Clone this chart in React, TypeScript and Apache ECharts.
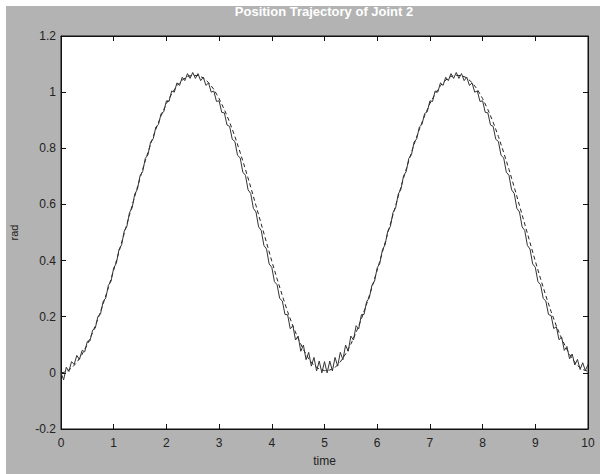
import React, { useEffect, useRef } from "react";
import * as echarts from "echarts";

// Time step of the sampled readings
const dashedStep = 0.1;
const solidStep = 0.05;

const xTicks = [0, 1, 2, 3, 4, 5, 6, 7, 8, 9, 10];
const yTickLabels = ["-0.2", "0", "0.2", "0.4", "0.6", "0.8", "1", "1.2"];

// Dashed (reference) trajectory, t = 0 .. 10 every 0.1
const dashedValues = [
  0, 0.004, 0.017, 0.037, 0.066, 0.101, 0.144, 0.192, 0.246, 0.304,
  0.366, 0.431, 0.497, 0.563, 0.629, 0.694, 0.756, 0.814, 0.868, 0.916,
  0.959, 0.994, 1.023, 1.043, 1.056, 1.06, 1.059, 1.051, 1.034, 1.01,
  0.977, 0.938, 0.893, 0.842, 0.785, 0.725, 0.662, 0.596, 0.53, 0.464,
  0.398, 0.335, 0.275, 0.218, 0.167, 0.122, 0.083, 0.05, 0.026, 0.014,
  0.008, 0.01, 0.019, 0.039, 0.067, 0.102, 0.144, 0.192, 0.246, 0.304,
  0.366, 0.431, 0.497, 0.563, 0.629, 0.694, 0.756, 0.814, 0.868, 0.916,
  0.959, 0.994, 1.023, 1.043, 1.056, 1.06, 1.059, 1.051, 1.034, 1.01,
  0.977, 0.938, 0.893, 0.842, 0.785, 0.725, 0.662, 0.596, 0.53, 0.464,
  0.398, 0.335, 0.275, 0.218, 0.167, 0.122, 0.083, 0.05, 0.026, 0.012,
  0.005,
];

// Solid (actual) trajectory with ripple, t = 0 .. 10 every 0.05
const solidValues = [
  0.0, -0.025, 0.02, 0.005, 0.04, 0.03, 0.062, 0.048, 0.08, 0.075,
  0.112, 0.114, 0.152, 0.159, 0.2, 0.21, 0.254, 0.267, 0.312, 0.327,
  0.374, 0.39, 0.439, 0.456, 0.505, 0.522, 0.571, 0.588, 0.637, 0.654,
  0.702, 0.717, 0.764, 0.777, 0.822, 0.834, 0.876, 0.885, 0.924, 0.93,
  0.969, 0.967, 1.004, 1.0, 1.033, 1.024, 1.053, 1.041, 1.066, 1.049,
  1.07, 1.049, 1.066, 1.041, 1.053, 1.024, 1.033, 1.0, 1.004, 0.967,
  0.969, 0.928, 0.926, 0.883, 0.878, 0.832, 0.824, 0.775, 0.766, 0.715,
  0.704, 0.652, 0.639, 0.586, 0.573, 0.52, 0.507, 0.454, 0.441, 0.388,
  0.376, 0.325, 0.314, 0.265, 0.256, 0.208, 0.207, 0.157, 0.168, 0.117,
  0.131, 0.077, 0.099, 0.047, 0.073, 0.024, 0.055, 0.007, 0.042, 0.0,
  0.04, 0.0, 0.042, 0.007, 0.055, 0.024, 0.073, 0.047, 0.099, 0.077,
  0.131, 0.117, 0.168, 0.157, 0.207, 0.208, 0.254, 0.267, 0.312, 0.327,
  0.374, 0.39, 0.439, 0.456, 0.505, 0.522, 0.571, 0.588, 0.637, 0.654,
  0.702, 0.717, 0.764, 0.777, 0.822, 0.834, 0.876, 0.885, 0.924, 0.93,
  0.969, 0.967, 1.004, 1.0, 1.033, 1.024, 1.053, 1.041, 1.066, 1.049,
  1.07, 1.049, 1.066, 1.041, 1.053, 1.024, 1.033, 1.0, 1.004, 0.967,
  0.969, 0.928, 0.926, 0.883, 0.878, 0.832, 0.824, 0.775, 0.766, 0.715,
  0.704, 0.652, 0.639, 0.586, 0.573, 0.52, 0.507, 0.454, 0.441, 0.388,
  0.376, 0.325, 0.314, 0.265, 0.256, 0.208, 0.204, 0.158, 0.164, 0.118,
  0.127, 0.08, 0.094, 0.05, 0.067, 0.028, 0.048, 0.012, 0.036, 0.008,
  0.03,
];

const titleText = "Position Trajectory of Joint 2";
const xName = "time";
const yName = "rad";

export default function App() {
  const ref = useRef<HTMLDivElement>(null);

  useEffect(() => {
    if (!ref.current) return;
    const chart = echarts.init(ref.current, null, { renderer: "svg" });
    const round = (v: number) => Math.round(v * 1000) / 1000;
    const dashedData = dashedValues.map((v, i) => [round(i * dashedStep), v]);
    const solidData = solidValues.map((v, i) => [round(i * solidStep), v]);

    const labelStyle = {
      color: "#222",
      fontSize: 12,
      fontFamily: "Liberation Sans, Arial, sans-serif",
    };
    const lineStyle = { color: "#111", width: 1 };

    chart.setOption({
      animation: false,
      backgroundColor: "transparent",
      graphic: [
        {
          type: "text",
          x: 324,
          y: 5,
          style: {
            text: titleText,
            fill: "#fff",
            font: "bold 13px 'Liberation Sans', Arial, sans-serif",
            textAlign: "center",
            textVerticalAlign: "top",
          },
        },
      ],
      grid: {
        left: 61,
        right: 12,
        top: 36,
        bottom: 45,
        show: true,
        backgroundColor: "#fff",
        borderColor: "#111",
        borderWidth: 1,
      },
      xAxis: [
        {
          type: "value",
          min: 0,
          max: 10,
          interval: 1,
          position: "bottom",
          name: xName,
          nameLocation: "middle",
          nameGap: 26,
          nameTextStyle: { ...labelStyle },
          axisLine: { show: true, onZero: false, lineStyle },
          axisTick: { show: true, inside: true, length: 5, lineStyle },
          axisLabel: {
            ...labelStyle,
            margin: 8,
            formatter: (v: number) => (xTicks.includes(v) ? String(v) : ""),
          },
          splitLine: { show: false },
        },
        {
          type: "value",
          min: 0,
          max: 10,
          interval: 1,
          position: "top",
          axisLine: { show: true, onZero: false, lineStyle },
          axisTick: { show: true, inside: true, length: 5, lineStyle },
          axisLabel: { show: false },
          splitLine: { show: false },
        },
      ],
      yAxis: [
        {
          type: "value",
          min: -0.2,
          max: 1.2,
          interval: 0.2,
          position: "left",
          name: yName,
          nameLocation: "middle",
          nameGap: 42,
          nameRotate: 90,
          nameTextStyle: { ...labelStyle, fontSize: 11 },
          axisLine: { show: true, onZero: false, lineStyle },
          axisTick: { show: true, inside: true, length: 5, lineStyle },
          axisLabel: {
            ...labelStyle,
            margin: 5,
            formatter: (v: number) => {
              const idx = Math.round((v + 0.2) / 0.2);
              return yTickLabels[idx] ?? "";
            },
          },
          splitLine: { show: false },
        },
        {
          type: "value",
          min: -0.2,
          max: 1.2,
          interval: 0.2,
          position: "right",
          axisLine: { show: true, onZero: false, lineStyle },
          axisTick: { show: true, inside: true, length: 5, lineStyle },
          axisLabel: { show: false },
          splitLine: { show: false },
        },
      ],
      series: [
        {
          name: "desired",
          type: "line",
          data: dashedData,
          showSymbol: false,
          symbol: "none",
          lineStyle: { color: "#222", width: 1, type: [4, 3] },
          z: 2,
        },
        {
          name: "actual",
          type: "line",
          data: solidData,
          showSymbol: false,
          symbol: "none",
          lineStyle: { color: "#333", width: 1 },
          z: 3,
        },
      ],
    });
    return () => chart.dispose();
  }, []);

  return (
    <div
      style={{
        position: "absolute",
        left: 0,
        top: 0,
        width: 600,
        height: 474,
        background: "#fff",
      }}
    >
      <div
        style={{
          position: "absolute",
          left: 6,
          top: 6,
          width: 594,
          height: 468,
          background: "#b3b3b3",
        }}
      />
      <div
        ref={ref}
        style={{ position: "absolute", left: 0, top: 0, width: 600, height: 474 }}
      />
    </div>
  );
}
